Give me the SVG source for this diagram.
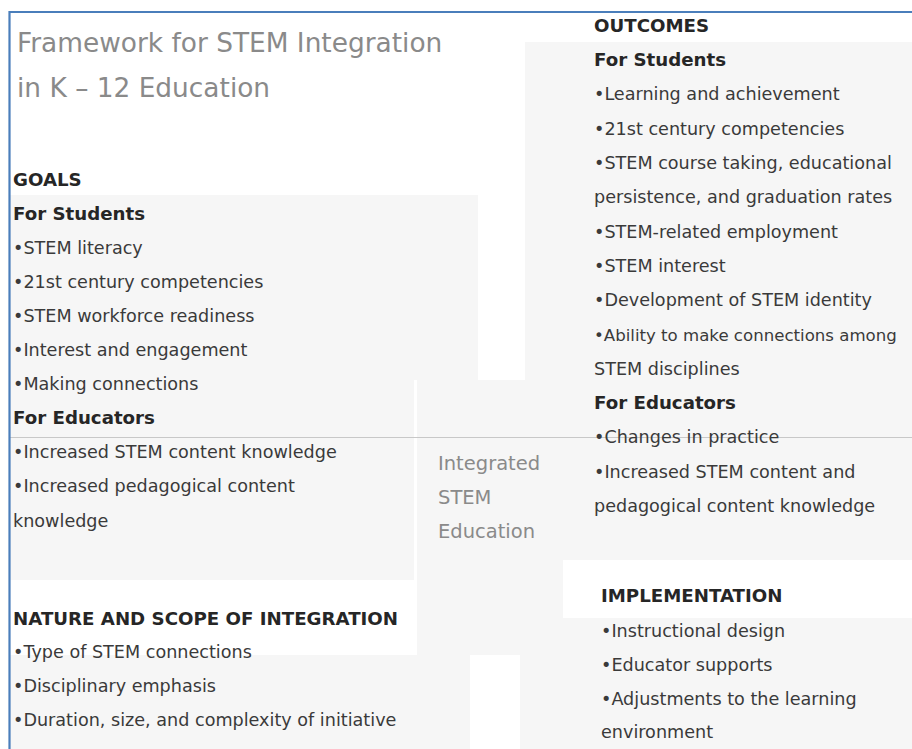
<svg xmlns="http://www.w3.org/2000/svg" width="912" height="749" viewBox="0 0 912 749">
<style>
.t{font-family:"DejaVu Sans",Verdana,sans-serif;font-size:17.6px;fill:#3a3a3a}
.h{font-family:"DejaVu Sans",Verdana,sans-serif;font-size:18.2px;font-weight:bold;fill:#262626}
.g{font-family:"DejaVu Sans",Verdana,sans-serif;fill:#8a8a8a}
.box{fill:#f6f6f6}
</style>
<rect width="912" height="749" fill="#ffffff"/>
<g id="backgrounds">
<rect class="box" x="10" y="195" width="468" height="185"/>
<rect class="box" x="10" y="380" width="404" height="200"/>
<rect class="box" x="525" y="42" width="387" height="518"/>
<rect class="box" x="417" y="380" width="146" height="275"/>
<rect class="box" x="10" y="655" width="460" height="94"/>
<rect class="box" x="520" y="618" width="392" height="131"/>
</g>
<g id="connectors">
<line x1="10" y1="437.5" x2="912" y2="437.5" stroke="#c8c8c8" stroke-width="1"/>
</g>
<g id="frame">
<path d="M9.5 749 V12 H912" fill="none" stroke="#4a7ebb" stroke-width="2.2"/>
</g>
<g id="title">
<text class="g" x="17" y="52" font-size="26.4">Framework for STEM Integration</text>
<text class="g" x="17" y="97" font-size="26.4">in K – 12 Education</text>
</g>
<g id="goals">
<text class="h" x="13" y="186">GOALS</text>
<text class="h" x="13" y="220">For Students</text>
<text class="t" x="13" y="254">•STEM literacy</text>
<text class="t" x="13" y="288">•21st century competencies</text>
<text class="t" x="13" y="322">•STEM workforce readiness</text>
<text class="t" x="13" y="356">•Interest and engagement</text>
<text class="t" x="13" y="390">•Making connections</text>
<text class="h" x="13" y="424">For Educators</text>
<text class="t" x="13" y="458">•Increased STEM content knowledge</text>
<text class="t" x="13" y="492">•Increased pedagogical content</text>
<text class="t" x="13" y="527">knowledge</text>
</g>
<g id="nature">
<text class="h" x="13" y="625">NATURE AND SCOPE OF INTEGRATION</text>
<text class="t" x="13" y="658">•Type of STEM connections</text>
<text class="t" x="13" y="692">•Disciplinary emphasis</text>
<text class="t" x="13" y="726">•Duration, size, and complexity of initiative</text>
</g>
<g id="center">
<text class="g" x="438" y="470" font-size="19.5">Integrated</text>
<text class="g" x="438" y="504" font-size="19.5">STEM</text>
<text class="g" x="438" y="538" font-size="19.5">Education</text>
</g>
<g id="outcomes">
<text class="h" x="594" y="32">OUTCOMES</text>
<text class="h" x="594" y="66">For Students</text>
<text class="t" x="594" y="100">•Learning and achievement</text>
<text class="t" x="594" y="135">•21st century competencies</text>
<text class="t" x="594" y="169">•STEM course taking, educational</text>
<text class="t" x="594" y="203">persistence, and graduation rates</text>
<text class="t" x="594" y="238">•STEM-related employment</text>
<text class="t" x="594" y="272">•STEM interest</text>
<text class="t" x="594" y="306">•Development of STEM identity</text>
<text class="t" x="594" y="341" style="font-size:16.6px">•Ability to make connections among</text>
<text class="t" x="594" y="375">STEM disciplines</text>
<text class="h" x="594" y="409">For Educators</text>
<text class="t" x="594" y="443">•Changes in practice</text>
<text class="t" x="594" y="478">•Increased STEM content and</text>
<text class="t" x="594" y="512">pedagogical content knowledge</text>
</g>
<g id="implementation">
<text class="h" x="601" y="602">IMPLEMENTATION</text>
<text class="t" x="601" y="637">•Instructional design</text>
<text class="t" x="601" y="671">•Educator supports</text>
<text class="t" x="601" y="705">•Adjustments to the learning</text>
<text class="t" x="601" y="738">environment</text>
</g>
</svg>
